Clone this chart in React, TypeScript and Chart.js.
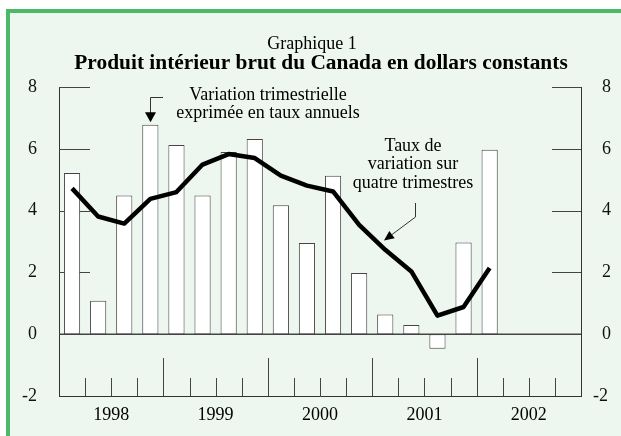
import React, { useEffect, useRef } from "react";
import { Chart, registerables } from "chart.js";

Chart.register(...registerables);

// ---- Data ----
const years = ["1998", "1999", "2000", "2001", "2002"];
const quarterNames = ["T1", "T2", "T3", "T4"];
const quarters = years.flatMap((y) => quarterNames.map((q) => `${y} ${q}`));

// Variation trimestrielle exprimée en taux annuels (bars)
const quarterlyGrowth: (number | null)[] = [
  5.22, 1.08, 4.49, 6.78, 6.12, 4.49, 5.9, 6.32, 4.17, 2.95, 5.13, 1.98, 0.64, 0.3, -0.47, 2.97, 5.97,
  null, null, null,
];

// Taux de variation sur quatre trimestres (line)
const fourQuarterGrowth: (number | null)[] = [
  4.72, 3.81, 3.58, 4.38, 4.6, 5.49, 5.83, 5.7, 5.13, 4.81, 4.62, 3.54, 2.73, 2.03, 0.6, 0.88, 2.14,
  null, null, null,
];

const yMin = -2;
const yMax = 8;
const yStep = 2;
const sideTickValues = [2, 4, 6, 8];

const titleSmall = "Graphique 1";
const titleBold = "Produit intérieur brut du Canada en dollars constants";
const barNote = ["Variation trimestrielle", "exprimée en taux annuels"];
const lineNote = ["Taux de", "variation sur", "quatre trimestres"];

// ---- Styles ----
const SERIF = '"Liberation Serif", "DejaVu Serif", serif';
const BORDER_GREEN = "#4cb968";
const PANEL_BG = "#edf7ef";
const AXIS = "#333";

function seg(ctx: CanvasRenderingContext2D, x1: number, y1: number, x2: number, y2: number) {
  ctx.beginPath();
  ctx.moveTo(x1, y1);
  ctx.lineTo(x2, y2);
  ctx.stroke();
}

const decor = {
  id: "decor",
  beforeDraw(chart: any) {
    const { ctx, width, height } = chart;
    ctx.save();
    ctx.fillStyle = "#ffffff";
    ctx.fillRect(0, 0, width, height);
    ctx.fillStyle = BORDER_GREEN;
    ctx.fillRect(6, 9, width - 6, height - 9);
    ctx.fillStyle = PANEL_BG;
    ctx.fillRect(10, 13, width - 10, height - 13);
    ctx.restore();
  },
  beforeDatasetsDraw(chart: any) {
    const { ctx, chartArea, scales } = chart;
    const x = scales.x;
    const y = scales.y;
    ctx.save();
    ctx.strokeStyle = "#444";
    ctx.lineWidth = 1;
    for (const v of sideTickValues) {
      const py = Math.round(y.getPixelForValue(v)) + 0.5;
      seg(ctx, chartArea.left, py, chartArea.left + 31, py);
      seg(ctx, chartArea.right - 29, py, chartArea.right, py);
    }
    // zero line
    ctx.lineWidth = 1.5;
    const y0 = y.getPixelForValue(0);
    seg(ctx, chartArea.left, y0, chartArea.right, y0);
    // bottom quarter ticks
    ctx.lineWidth = 1;
    for (let i = 1; i < quarters.length; i++) {
      const bx = Math.round((x.getPixelForValue(i - 1) + x.getPixelForValue(i)) / 2) + 0.5;
      const len = i % 4 === 0 ? 38 : 18;
      seg(ctx, bx, chartArea.bottom, bx, chartArea.bottom - len);
    }
    ctx.restore();
  },
  afterDraw(chart: any) {
    const { ctx, chartArea, scales } = chart;
    const x = scales.x;
    const y = scales.y;
    ctx.save();
    ctx.fillStyle = "#000";
    ctx.textAlign = "center";
    ctx.textBaseline = "middle";
    ctx.font = `18px ${SERIF}`;
    ctx.fillText(titleSmall, 312, 44);
    ctx.font = `bold 21.4px ${SERIF}`;
    ctx.fillText(titleBold, 321, 63);

    // year labels
    ctx.font = `18px ${SERIF}`;
    years.forEach((yr, k) => {
      const px = (x.getPixelForValue(k * 4 + 1) + x.getPixelForValue(k * 4 + 2)) / 2;
      ctx.fillText(yr, px, chartArea.bottom + 19);
    });

    // annotations
    ctx.fillText(barNote[0], 268, 95);
    ctx.fillText(barNote[1], 268, 113);
    lineNote.forEach((t, i) => ctx.fillText(t, 413, 146 + i * 18.5));

    ctx.strokeStyle = "#333";
    ctx.fillStyle = "#000";
    ctx.lineWidth = 1;
    // arrow 1 -> bar peak
    const ax = Math.round(x.getPixelForValue(3)) + 0.5;
    const tipY = y.getPixelForValue(quarterlyGrowth[3] as number) - 2.5;
    const elbowY = Math.round(tipY - 25) + 0.5;
    ctx.beginPath();
    ctx.moveTo(ax + 12.5, elbowY);
    ctx.lineTo(ax, elbowY);
    ctx.lineTo(ax, tipY - 9);
    ctx.stroke();
    ctx.beginPath();
    ctx.moveTo(ax - 5.5, tipY - 10);
    ctx.lineTo(ax + 5.5, tipY - 10);
    ctx.lineTo(ax, tipY);
    ctx.closePath();
    ctx.fill();

    // arrow 2 -> line
    const sx = 415.5;
    const sy1 = 203;
    const sy2 = 217;
    const tx = 384;
    const ty = 240.5;
    seg(ctx, sx, sy1, sx, sy2);
    const dx = tx - sx;
    const dy = ty - sy2;
    const L = Math.hypot(dx, dy);
    const ux = dx / L;
    const uy = dy / L;
    const hl = 10;
    const hw = 4.5;
    const bx = tx - ux * hl;
    const by = ty - uy * hl;
    seg(ctx, sx, sy2, bx, by);
    ctx.beginPath();
    ctx.moveTo(tx, ty);
    ctx.lineTo(bx - uy * hw, by + ux * hw);
    ctx.lineTo(bx + uy * hw, by - ux * hw);
    ctx.closePath();
    ctx.fill();
    ctx.restore();
  },
};

export default function App() {
  const ref = useRef<HTMLCanvasElement>(null);
  useEffect(() => {
    if (!ref.current) return;
    const chart = new Chart(ref.current, {
      type: "bar",
      data: {
        labels: quarters,
        datasets: [
          {
            type: "line",
            label: "Taux de variation sur quatre trimestres",
            data: fourQuarterGrowth,
            borderColor: "#000",
            borderWidth: 4.5,
            pointRadius: 0,
            tension: 0,
            fill: false,
            order: 0,
            borderJoinStyle: "round",
          } as any,
          {
            type: "bar",
            label: "Variation trimestrielle exprimée en taux annuels",
            data: quarterlyGrowth,
            backgroundColor: "#ffffff",
            borderColor: "#444",
            borderWidth: 1,
            borderSkipped: false,
            barPercentage: 0.62,
            categoryPercentage: 1,
            order: 1,
          } as any,
        ],
      },
      options: {
        responsive: false,
        maintainAspectRatio: false,
        devicePixelRatio: 1,
        animation: false,
        layout: { padding: { top: 87, left: 0, right: 0, bottom: 0 } },
        plugins: {
          legend: { display: false },
          tooltip: { enabled: false },
          title: { display: false },
        },
        scales: {
          x: {
            type: "category",
            offset: true,
            grid: { display: false },
            border: { display: true, color: AXIS, width: 1 },
            ticks: { display: false },
            afterFit: (s: any) => {
              s.height = 40;
            },
          },
          y: {
            position: "left",
            min: yMin,
            max: yMax,
            ticks: {
              stepSize: yStep,
              color: "#111",
              padding: 14,
              font: { family: SERIF, size: 18 },
            },
            grid: { display: false },
            border: { display: true, color: AXIS, width: 1 },
            afterFit: (s: any) => {
              s.width = 59;
            },
          },
          y2: {
            position: "right",
            min: yMin,
            max: yMax,
            ticks: {
              stepSize: yStep,
              color: "#111",
              padding: 4,
              font: { family: SERIF, size: 18 },
              callback: (v: any) => String(v).padStart(2, "\u2007"),
            },
            grid: { display: false },
            border: { display: true, color: AXIS, width: 1 },
            afterFit: (s: any) => {
              s.width = 40;
            },
          },
        },
      } as any,
      plugins: [decor],
    });
    return () => chart.destroy();
  }, []);
  return (
    <div style={{ position: "fixed", left: 0, top: 0, width: 621, height: 436 }}>
      <canvas ref={ref} width={621} height={436} style={{ display: "block" }} />
    </div>
  );
}
